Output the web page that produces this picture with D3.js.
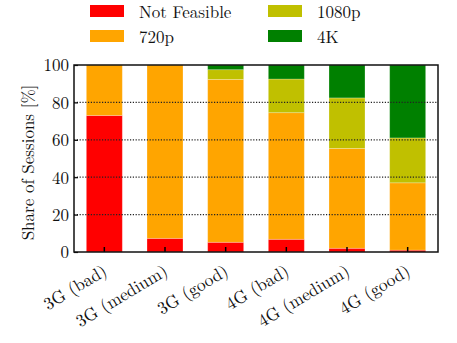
<!DOCTYPE html>
<html><head><meta charset="utf-8">
<script src="https://cdn.jsdelivr.net/npm/d3@7"></script>
<style>body{margin:0;background:#fff}svg{display:block}</style>
</head><body>
<svg id="c" width="457" height="343"></svg>
<script>
const categories = ["3G (bad)","3G (medium)","3G (good)","4G (bad)","4G (medium)","4G (good)"];
const seriesNames = ["Not Feasible","720p","1080p","4K"];
const notFeasible = [73, 7.3, 5.2, 6.8, 2, 1];
const p720 = [27, 92.7, 87.1, 67.7, 53.4, 36];
const p1080 = [0, 0, 5.2, 18, 27, 24];
const p4k = [0, 0, 2.5, 7.5, 17.6, 39];
const yTicks = [0,20,40,60,80,100];
const colors = ["#ff0000","#ffa500","#c0c000","#008000"];

const FONT = "Latin Modern Roman";
const svg = d3.select("#c");
const L=74, R=438, T=65, B=252;
const x = d3.scaleBand().domain(categories).range([L,R]).paddingInner(0.407).paddingOuter(0.2035);
const y = d3.scaleLinear().domain([0,100]).range([B,T]);

const rows = categories.map((c,i)=>({cat:c,"Not Feasible":notFeasible[i],"720p":p720[i],"1080p":p1080[i],"4K":p4k[i]}));
const stacked = d3.stack().keys(seriesNames)(rows);

svg.append("g").selectAll("g").data(stacked).join("g")
  .attr("fill",(d,i)=>colors[i])
  .selectAll("rect").data(d=>d.filter(v=>v[1]-v[0]>0)).join("rect")
  .attr("x",d=>x(d.data.cat)).attr("width",x.bandwidth())
  .attr("y",d=>y(Math.min(100,d[1]))).attr("height",d=>Math.max(0,y(d[0])-y(Math.min(100,d[1]))))
  .attr("stroke","rgba(255,255,255,0.3)").attr("stroke-width",0.8);

// gridlines
svg.append("g").selectAll("line").data(yTicks.filter(v=>v>0&&v<100)).join("line")
  .attr("x1",L).attr("x2",R).attr("y1",d=>y(d)).attr("y2",d=>y(d))
  .attr("stroke","#222").attr("stroke-width",1.2).attr("stroke-dasharray","1.2,1.6");

// y axis
const ya = svg.append("g").attr("transform",`translate(${L},0)`)
  .call(d3.axisLeft(y).tickValues(yTicks).tickSize(-4).tickPadding(5));
ya.attr("font-family",null).attr("font-size",null);
ya.select(".domain").remove();
ya.selectAll("line").attr("stroke","#000").attr("stroke-width",1.2);
ya.selectAll("text").style("font-size","17px").style("font-family",FONT).attr("fill","#111").attr("dy","0.35em");

// x axis ticks
const xa = svg.append("g").attr("transform",`translate(0,${B})`)
  .call(d3.axisBottom(x).tickSize(-5).tickFormat(""));
xa.select(".domain").remove();
xa.selectAll("line").attr("stroke","#000").attr("stroke-width",1.5);

// x labels rotated
svg.append("g").selectAll("text").data(categories).join("text")
  .attr("transform",d=>`translate(${x(d)+x.bandwidth()/2-3},${B+11}) rotate(-31)`)
  .attr("text-anchor","end").attr("dy","0.75em")
  .style("font-family",FONT).style("font-size","17.5px").attr("fill","#111").text(d=>d);

// frame
svg.append("rect").attr("x",L).attr("y",T).attr("width",R-L).attr("height",B-T)
  .attr("fill","none").attr("stroke","#111").attr("stroke-width",1.5);

// y label
svg.append("text").attr("transform",`translate(28,${(T+B)/2+4}) rotate(-90)`)
  .attr("text-anchor","middle").attr("dy","0.35em")
  .style("font-family",FONT).style("font-size","17px").attr("fill","#111").text("Share of Sessions [%]");

// legend
const lg = svg.append("g");
const lpos = [[90,5],[90,30],[268,5],[268,30]];
seriesNames.forEach((s,i)=>{
  lg.append("rect").attr("x",lpos[i][0]).attr("y",lpos[i][1]).attr("width",34).attr("height",12).attr("fill",colors[i]);
  lg.append("text").attr("x",lpos[i][0]+49).attr("y",lpos[i][1]+12.5)
    .style("font-family",FONT).style("font-size","17px").attr("fill","#111").text(s);
});
</script>
</body></html>
